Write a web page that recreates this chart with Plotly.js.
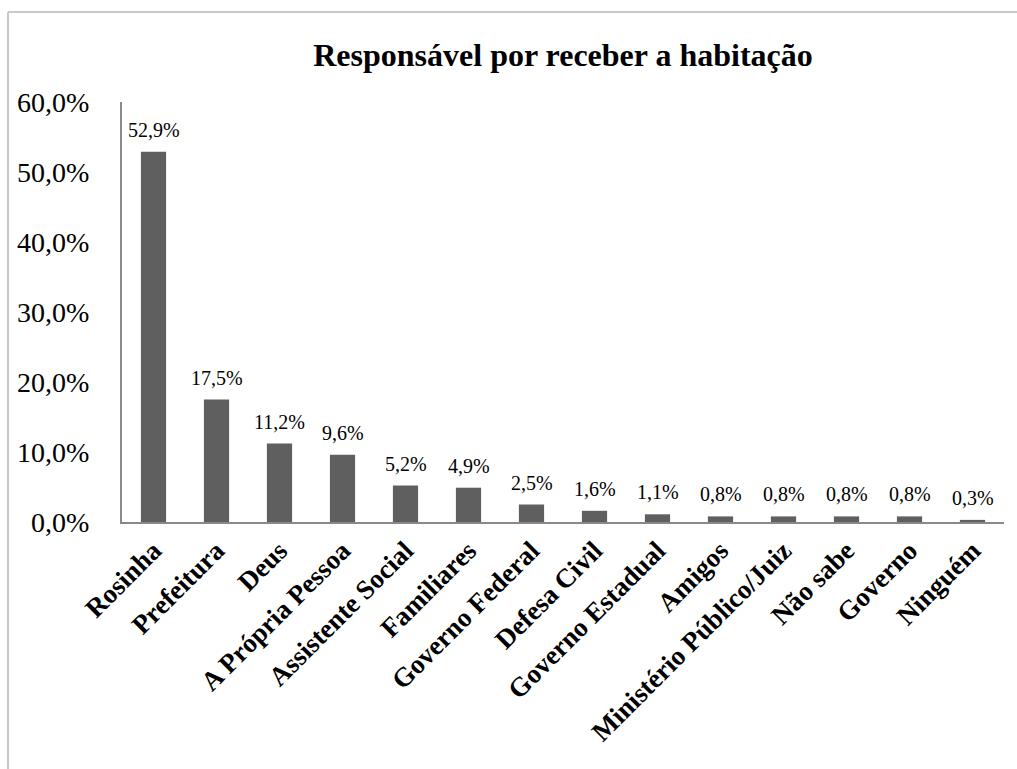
<!DOCTYPE html>
<html><head><meta charset="utf-8">
<script src="https://cdn.plot.ly/plotly-3.0.1.min.js"></script>
<style>body{margin:0;background:#fff}#c{width:1017px;height:769px}</style>
</head><body><div id="c"></div>
<script>
var categories = ["Rosinha","Prefeitura","Deus","A Própria Pessoa","Assistente Social","Familiares","Governo Federal","Defesa Civil","Governo Estadual","Amigos","Ministério Público/Juiz","Não sabe","Governo","Ninguém"];
var values = [52.9,17.5,11.2,9.6,5.2,4.9,2.5,1.6,1.1,0.8,0.8,0.8,0.8,0.3];
var yTicks = [0,10,20,30,40,50,60];
var yTickText = yTicks.map(function(v){return v.toFixed(1).replace('.',',')+'%';});

var L=122,R=1004,T=102,B=522,W=1017,H=769;
function px(x){return (x-L)/(R-L);}
function py(y){return (B-y)/(B-T);}
var SERIF='Liberation Serif, Times New Roman, serif';

var trace = {
  type:'bar', x:categories, y:values,
  marker:{color:'#5f5f5f'}, width:0.4,
  hoverinfo:'none'
};
var labels = categories.map(function(c,i){
  return {x:c, y:values[i], xref:'x', yref:'y', text:values[i].toFixed(1).replace('.',',')+'%',
    showarrow:false, yanchor:'bottom', yshift:9,
    font:{family:SERIF, size:20, color:'#000'}};
});
var layout = {
  width:W, height:H, separators:',.',
  margin:{l:L, r:W-R, t:T, b:H-B},
  paper_bgcolor:'#fff', plot_bgcolor:'#fff',
  showlegend:false,
  title:{text:'<b>Responsável por receber a habitação</b>', x:0.5, xref:'paper', y:1-55/H, yanchor:'middle',
    font:{family:SERIF, size:32, color:'#000'}},
  xaxis:{tickangle:-45, showline:true, linecolor:'#898989', linewidth:2, ticks:'', showgrid:false,
    tickfont:{family:SERIF, size:27, color:'#000', weight:'bold'},
    range:[-0.5,13.5]},
  yaxis:{range:[0,60], tickvals:yTicks, ticktext:yTickText, showline:true, linecolor:'#898989', linewidth:2,
    ticks:'', showgrid:false, zeroline:false, ticklabelstandoff:25,
    tickfont:{family:SERIF, size:28, color:'#000'}},
  annotations:labels,
  shapes:[
    {type:'line', xref:'paper', yref:'paper', x0:px(8), x1:px(1017), y0:py(12), y1:py(12), line:{color:'#c8c8c8', width:2}},
    {type:'line', xref:'paper', yref:'paper', x0:px(8), x1:px(8), y0:py(12), y1:py(769), line:{color:'#c8c8c8', width:2}}
  ]
};
Plotly.newPlot('c',[trace],layout,{displayModeBar:false,staticPlot:true});
</script></body></html>
